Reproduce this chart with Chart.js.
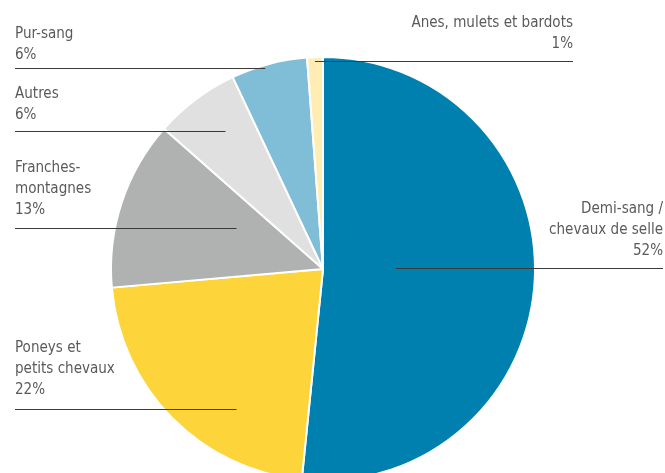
<!DOCTYPE html>
<html>
<head>
<meta charset="utf-8">
<script src="https://cdn.jsdelivr.net/npm/chart.js@4/dist/chart.umd.min.js"></script>
<style>
  html, body { margin: 0; padding: 0; background: #fff; overflow: hidden; }
  #wrap { width: 665px; height: 473px; overflow: hidden; }
</style>
</head>
<body>
<div id="wrap"><canvas id="pieChart" width="665" height="490"></canvas></div>
<script>
// Data (slice sizes; printed labels are the rounded figures)
const categories = ["Demi-sang / chevaux de selle", "Poneys et petits chevaux", "Franches-montagnes", "Autres", "Pur-sang", "Anes, mulets et bardots"];
const shares = [51.6, 22.0, 12.9, 6.5, 5.8, 1.2];
const percentLabels = ["52%", "22%", "13%", "6%", "6%", "1%"];
const sliceColors = ["#0080AE", "#FDD43A", "#B0B2B2", "#DFE0DF", "#80BDD7", "#FFEDB3"];
const labelLines = [["Demi-sang /", "chevaux de selle"], ["Poneys et", "petits chevaux"], ["Franches-", "montagnes"], ["Autres"], ["Pur-sang"], ["Anes, mulets et bardots"]];

// Label placement: text anchor, first baseline, leader line (inner end relative to pie centre, in radius units)
const labelLayout = [
  { x: 663, align: "right", y: 213, lineY: 268, outerX: 663, fx: 0.343 },
  { x: 15, align: "left", y: 352, lineY: 409, outerX: 15, fx: -0.408 },
  { x: 15, align: "left", y: 172, lineY: 228, outerX: 15, fx: -0.408 },
  { x: 15, align: "left", y: 98, lineY: 131, outerX: 15, fx: -0.460 },
  { x: 15, align: "left", y: 38, lineY: 68, outerX: 15, fx: -0.272 },
  { x: 573, align: "right", y: 27, lineY: 61, outerX: 573, fx: -0.038 }
];

const LINE_H = 21;
const FONT = '16px "DejaVu Sans Condensed", "Liberation Sans Narrow", sans-serif';
const TEXT_SQUEEZE = 0.94; // the original face is narrower

// Draws the category names, percentages and leader lines
const calloutPlugin = {
  id: "callouts",
  afterDraw(chart) {
    const ctx = chart.ctx;
    const arcs = chart.getDatasetMeta(0).data;
    ctx.save();
    ctx.font = FONT;
    ctx.textBaseline = "alphabetic";
    arcs.forEach((arc, i) => {
      const lay = labelLayout[i];
      const innerX = arc.x + lay.fx * arc.outerRadius;
      // leader line
      ctx.strokeStyle = "#3a3a3a";
      ctx.lineWidth = 1;
      ctx.beginPath();
      ctx.moveTo(Math.min(innerX, lay.outerX), lay.lineY + 0.5);
      ctx.lineTo(Math.max(innerX, lay.outerX), lay.lineY + 0.5);
      ctx.stroke();
      // text
      ctx.fillStyle = "#5a5a5a";
      ctx.textAlign = lay.align;
      const lines = labelLines[i].concat([percentLabels[i]]);
      lines.forEach((t, k) => {
        ctx.save();
        ctx.translate(lay.x, lay.y + k * LINE_H);
        ctx.scale(TEXT_SQUEEZE, 1);
        ctx.fillText(t, 0, 0);
        ctx.restore();
      });
    });
    ctx.restore();
  }
};

const ctx = document.getElementById("pieChart").getContext("2d");
const pieChart = new Chart(ctx, {
  type: "pie",
  data: {
    labels: categories,
    datasets: [{
      data: shares,
      backgroundColor: sliceColors,
      borderColor: "#ffffff",
      borderWidth: 2
    }]
  },
  options: {
    responsive: false,
    animation: false,
    layout: { padding: { left: 110, right: 129, top: 56, bottom: 8 } },
    plugins: {
      legend: { display: false },
      tooltip: { enabled: false }
    }
  },
  plugins: [calloutPlugin]
});
</script>
</body>
</html>
